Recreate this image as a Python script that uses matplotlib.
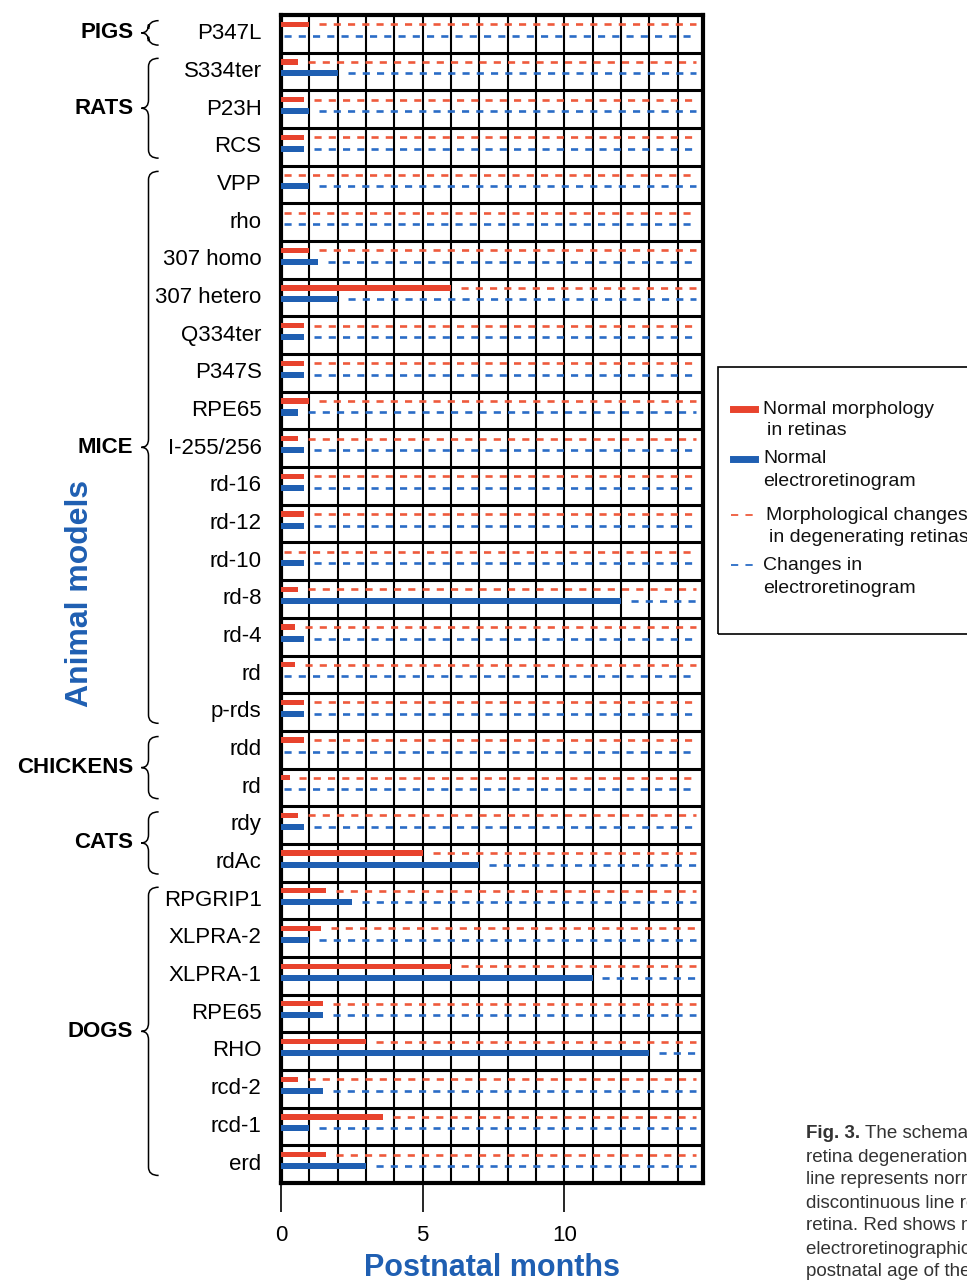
import matplotlib
matplotlib.use("Agg")
import matplotlib.pyplot as plt
import matplotlib.transforms as mtrans
from matplotlib.path import Path
from matplotlib.patches import PathPatch, Rectangle

plt.rcParams['font.family'] = ['Liberation Sans', 'DejaVu Sans']

models = ["P347L", "S334ter", "P23H", "RCS", "VPP", "rho", "307 homo", "307 hetero",
          "Q334ter", "P347S", "RPE65", "I-255/256", "rd-16", "rd-12", "rd-10", "rd-8",
          "rd-4", "rd", "p-rds", "rdd", "rd", "rdy", "rdAc", "RPGRIP1", "XLPRA-2",
          "XLPRA-1", "RPE65", "RHO", "rcd-2", "rcd-1", "erd"]
# months of normal morphology (red) and normal ERG (blue)
morph = [1.0, 0.6, 0.8, 0.8, 0, 0, 1.0, 6.0,
         0.8, 0.8, 1.0, 0.6, 0.8, 0.8, 0, 0.6,
         0.5, 0.5, 0.8, 0.8, 0.3, 0.6, 5.0, 1.6, 1.4,
         6.0, 1.5, 3.0, 0.6, 3.6, 1.6]
erg = [0, 2.0, 1.0, 0.8, 1.0, 0, 1.3, 2.0,
       0.8, 0.8, 0.6, 0.8, 0.8, 0.8, 0.8, 12.0,
       0.8, 0, 0.8, 0, 0, 0.8, 7.0, 2.5, 1.0,
       11.0, 1.5, 13.0, 1.5, 1.0, 3.0]
groups = ["PIGS", "RATS", "MICE", "CHICKENS", "CATS", "DOGS"]
group_first = [0, 1, 4, 19, 21, 23]
group_last = [0, 3, 18, 20, 22, 30]

RED = "#e8432d"
LRED = "#ee5a3c"
BLUE = "#1f5fb2"
DBLUE = "#2a6cc6"
dash_end = 14.65

fig = plt.figure(figsize=(9.67, 12.81), dpi=100)
ax = fig.add_axes([0.2906, 0.0765, 0.4364, 0.9118])

rows = list(range(len(models)))
red_y = [i - 0.255 for i in rows]
blue_y = [i + 0.05 for i in rows]
ax.barh(red_y, morph, height=0.14, color=RED, zorder=3)
ax.barh(blue_y, erg, height=0.16, color=BLUE, zorder=3)
for i in rows:
    s = morph[i] + 0.35 if morph[i] > 0 else 0.1
    ax.plot([s, dash_end], [red_y[i], red_y[i]], color=LRED, lw=1.9,
            linestyle=(0, (2.7, 2.7)), zorder=3)
    s = erg[i] + 0.35 if erg[i] > 0 else 0.1
    ax.plot([s, dash_end], [blue_y[i], blue_y[i]], color=DBLUE, lw=1.9,
            linestyle=(0, (2.7, 2.7)), zorder=3)

# grid
for k in range(1, 15):
    ax.axvline(k, color="black", lw=1.5, zorder=1)
for i in rows[:-1]:
    ax.axhline(i + 0.5, color="black", lw=2.2, zorder=1)

ax.set_xlim(0, 14.9)
ax.set_ylim(len(models) - 0.5, -0.5)
ax.set_xticks([0, 5, 10])
ax.set_xticklabels(["0", "5", "10"], fontsize=16)
ax.tick_params(axis="x", length=21, width=1.2, pad=9)
ax.set_yticks([i - 0.07 for i in rows])
ax.set_yticklabels(models, fontsize=16)
ax.tick_params(axis="y", length=0, pad=14)
for sp in ax.spines.values():
    sp.set_linewidth(3)
ax.set_xlabel("Postnatal months", fontsize=22, fontweight="bold", color=BLUE, va="center")
ax.xaxis.set_label_coords(0.5, -(1266 - 1181) / 1168)

# braces and group names
tr = mtrans.blended_transform_factory(ax.transAxes, ax.transData)


def brace(y0, y1, xt=-0.331, xb=-0.314, xe=-0.29, r=0.22):
    ym = (y0 + y1) / 2
    verts = [(xe, y0), (xb, y0), (xb, y0 + r), (xb, ym - r), (xb, ym), (xt, ym),
             (xb, ym), (xb, ym + r), (xb, y1 - r), (xb, y1), (xe, y1)]
    codes = [Path.MOVETO, Path.CURVE3, Path.CURVE3, Path.LINETO, Path.CURVE3, Path.CURVE3,
             Path.CURVE3, Path.CURVE3, Path.LINETO, Path.CURVE3, Path.CURVE3]
    ax.add_patch(PathPatch(Path(verts, codes), fill=False, lw=1.1, color="black",
                           transform=tr, clip_on=False))
    return ym


for g, a, b in zip(groups, group_first, group_last):
    ym = brace(a - 0.35, b + 0.3)
    ax.text(-0.35, ym, g, transform=tr, ha="right", va="center", fontsize=16,
            fontweight="bold")

fig.text(0.083, 0.537, "Animal models", rotation=90, ha="center", va="center",
         fontsize=23, fontweight="bold", color=BLUE)

# legend box
px = lambda x, y: (x / 967, 1 - y / 1281)
fig.patches.append(Rectangle(px(718, 634), 0.4, (634 - 367) / 1281,
                             transform=fig.transFigure, fill=False, lw=1.2,
                             edgecolor="black"))
fig.lines.append(plt.Line2D([733 / 967, 755 / 967], [1 - 409 / 1281] * 2, color=RED,
                            lw=5, transform=fig.transFigure))
fig.lines.append(plt.Line2D([733 / 967, 755 / 967], [1 - 459 / 1281] * 2, color=BLUE,
                            lw=5, transform=fig.transFigure))
fig.lines.append(plt.Line2D([731 / 967, 755 / 967], [1 - 515 / 1281] * 2, color=LRED,
                            lw=1.3, linestyle=(0, (4, 4)), transform=fig.transFigure))
fig.lines.append(plt.Line2D([731 / 967, 755 / 967], [1 - 565 / 1281] * 2, color=DBLUE,
                            lw=1.3, linestyle=(0, (4, 4)), transform=fig.transFigure))
leg_text = [(763, 409, "Normal morphology"), (767, 431, "in retinas"),
            (763, 459, "Normal"), (763, 482, "electroretinogram"),
            (766, 515, "Morphological changes"), (769, 538, "in degenerating retinas"),
            (763, 565, "Changes in"), (763, 588, "electroretinogram")]
for x, y, t in leg_text:
    fig.text(*px(x, y), t, fontsize=14, va="center", ha="left", color="#111111")

# caption (cut by the page edge, as in the source)
cap = ["The schematic representation of",
       "retina degeneration in animal models.",
       "line represents normal status and",
       "discontinuous line represents the",
       "retina. Red shows morphology and",
       "electroretinographic changes by",
       "postnatal age of the animals."]
fig.text(*px(806, 1133), "Fig. 3.", fontsize=13.5, fontweight="bold", va="center",
         color="#333333")
fig.text(*px(865, 1133), cap[0], fontsize=13.5, va="center", color="#333333")
for j, line in enumerate(cap[1:]):
    fig.text(*px(806, 1157 + 23 * j), line, fontsize=13.5, va="center", color="#333333")

fig.savefig("out.png", dpi=100)
